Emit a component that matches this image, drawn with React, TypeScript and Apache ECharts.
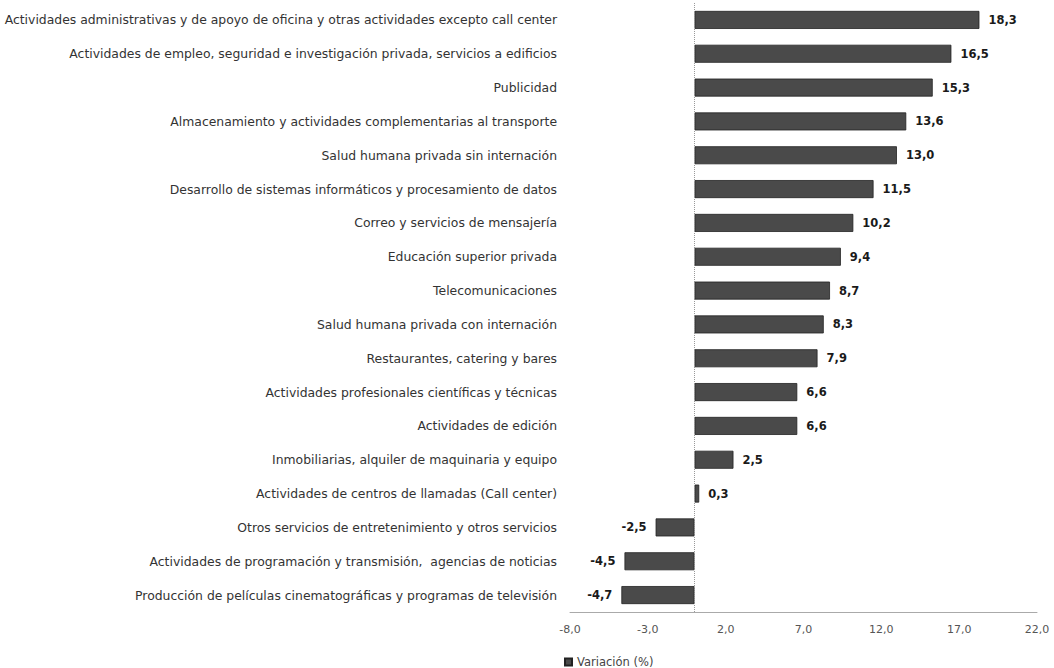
import React, { useEffect, useRef } from "react";
import * as echarts from "echarts";

const categories = [
  "Actividades administrativas y de apoyo de oficina y otras actividades excepto call center",
  "Actividades de empleo, seguridad e investigación privada, servicios a edificios",
  "Publicidad",
  "Almacenamiento y actividades complementarias al transporte",
  "Salud humana privada sin internación",
  "Desarrollo de sistemas informáticos y procesamiento de datos",
  "Correo y servicios de mensajería",
  "Educación superior privada",
  "Telecomunicaciones",
  "Salud humana privada con internación",
  "Restaurantes, catering y bares",
  "Actividades profesionales científicas y técnicas",
  "Actividades de edición",
  "Inmobiliarias, alquiler de maquinaria y equipo",
  "Actividades de centros de llamadas (Call center)",
  "Otros servicios de entretenimiento y otros servicios",
  "Actividades de programación y transmisión,  agencias de noticias",
  "Producción de películas cinematográficas y programas de televisión",
];

const variacion = [18.3, 16.5, 15.3, 13.6, 13.0, 11.5, 10.2, 9.4, 8.7, 8.3, 7.9, 6.6, 6.6, 2.5, 0.3, -2.5, -4.5, -4.7];

const seriesName = "Variación (%)";
const xMin = -8;
const xMax = 22;
const xInterval = 5;

const fmt = (v: number) => v.toFixed(1).replace(".", ",");
const FONT = "DejaVu Sans";

export default function App() {
  const ref = useRef<HTMLDivElement>(null);
  useEffect(() => {
    if (!ref.current) return;
    const chart = echarts.init(ref.current, undefined, { renderer: "svg" });
    chart.setOption({
      animation: false,
      backgroundColor: "#ffffff",
      textStyle: { fontFamily: FONT },
      grid: { left: 570, right: 17, top: 3, bottom: 56 },
      legend: {
        show: true,
        left: 559,
        top: 651,
        itemWidth: 7,
        itemHeight: 7,
        itemGap: 4,
        icon: "rect",
        textStyle: { fontSize: 11.5, color: "#444", fontFamily: FONT },
        data: [seriesName],
      },
      xAxis: {
        type: "value",
        min: xMin,
        max: xMax,
        interval: xInterval,
        axisLine: { show: true, onZero: false, lineStyle: { color: "#aaaaaa", width: 1 } },
        axisTick: { show: false },
        splitLine: { show: false },
        axisLabel: {
          formatter: (v: number) => fmt(v),
          color: "#555",
          fontSize: 11,
          margin: 12,
        },
      },
      yAxis: {
        type: "category",
        data: categories,
        inverse: true,
        axisLine: { show: false, onZero: false },
        axisTick: { show: false },
        axisLabel: { color: "#333", fontSize: 12.4, margin: 13 },
      },
      series: [
        {
          name: seriesName,
          type: "bar",
          data: variacion.map((v) =>
            v < 0 ? { value: v, label: { position: "left" } } : v
          ),
          barWidth: 18,
          itemStyle: { color: "#4a4a4a", borderColor: "#222222", borderWidth: 0.8 },
          label: {
            show: true,
            position: "right",
            formatter: (p: any) => fmt(p.value),
            color: "#1a1a1a",
            fontWeight: "bold",
            fontSize: 11.5,
            distance: 9,
          },
          markLine: {
            silent: true,
            symbol: "none",
            label: { show: false },
            lineStyle: { color: "#999", width: 1, type: "dotted" },
            data: [{ xAxis: 0 }],
          },
        },
      ],
    });
    return () => chart.dispose();
  }, []);
  return (
    <div
      ref={ref}
      style={{ position: "absolute", left: 0, top: 0, width: 1054, height: 668 }}
    />
  );
}
